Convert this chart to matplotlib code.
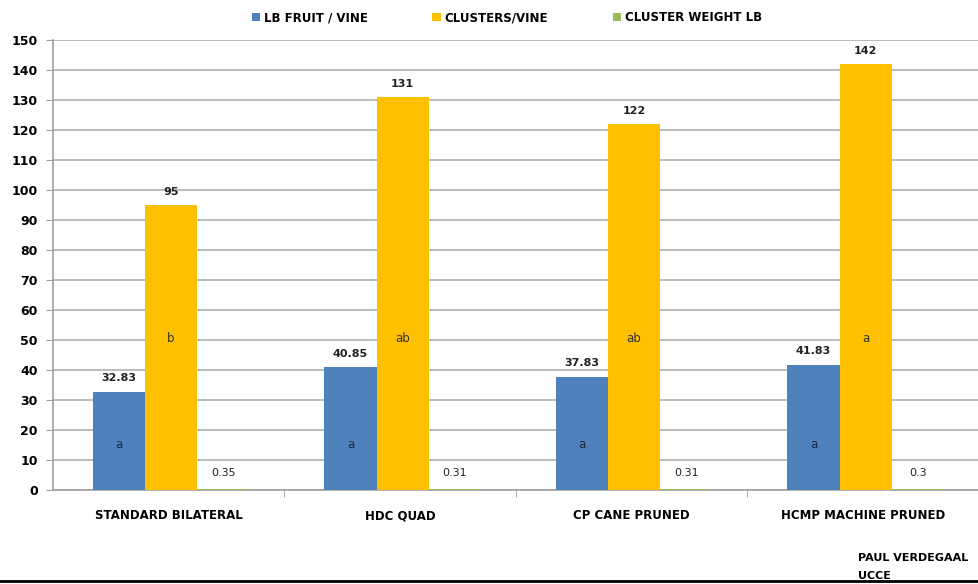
import matplotlib.pyplot as plt
import matplotlib.lines as mlines
import numpy as np

categories = ["STANDARD BILATERAL", "HDC QUAD", "CP CANE PRUNED", "HCMP MACHINE PRUNED"]
series_names = ["LB FRUIT / VINE", "CLUSTERS/VINE", "CLUSTER WEIGHT LB"]
fruit = [32.83, 40.85, 37.83, 41.83]
clusters = [95, 131, 122, 142]
weight = [0.35, 0.31, 0.31, 0.3]
fruit_letters = ["a", "a", "a", "a"]
cluster_letters = ["b", "ab", "ab", "a"]
colors = ["#4F81BD", "#FFC000", "#9BBB59"]

fig = plt.figure(figsize=(9.79, 5.84), dpi=100)
ax = fig.add_axes([53 / 979, 94 / 584, 1 - 53 / 979, 450 / 584])

x = np.arange(len(categories))
w = 0.225
all_vals = [fruit, clusters, weight]
for i, (vals, c, name) in enumerate(zip(all_vals, colors, series_names)):
    ax.bar(x + (i - 1) * w + 0.01, vals, w, color=c, label=name, zorder=3)

# value labels
for i, vals in enumerate(all_vals):
    for xi, v in zip(x, vals):
        txt = f"{v:g}" if i != 0 else f"{v:.2f}"
        ax.annotate(txt, (xi + (i - 1) * w + 0.01, v), xytext=(0, 6 if i < 2 else 8),
                    textcoords="offset points", ha="center", va="bottom",
                    fontsize=8, fontweight="bold" if i < 2 else "normal", color="#222222")

# significance letters inside the bars
for xi, l in zip(x, fruit_letters):
    ax.text(xi - w + 0.01, 15, l, ha="center", va="center", fontsize=8.5, color="#1a2a40")
for xi, l in zip(x, cluster_letters):
    ax.text(xi + 0.01, 50.5, l, ha="center", va="center", fontsize=8.5, color="#333333")

ax.set_xlim(-0.5, 3.5)
ax.set_ylim(0, 150)
ax.set_yticks(range(0, 151, 10))
ax.yaxis.grid(True, color="#b0b0b0", linewidth=1.2, zorder=0)
ax.set_axisbelow(True)
for s in ["top", "right"]:
    ax.spines[s].set_visible(False)
ax.spines["left"].set_color("#a0a0a0")
ax.spines["left"].set_linewidth(1.2)
ax.spines["bottom"].set_color("#a0a0a0")
ax.spines["bottom"].set_linewidth(1.2)
ax.tick_params(axis="y", length=5, color="#a0a0a0", labelsize=9, pad=6)
for lab in ax.get_yticklabels():
    lab.set_fontweight("bold")

ax.set_xticks(x)
ax.set_xticklabels(categories, fontsize=8.5, fontweight="bold")
ax.tick_params(axis="x", length=0, pad=14)
ax.set_xticks(np.arange(0.5, 3.5, 1), minor=True)
ax.tick_params(axis="x", which="minor", length=5, color="#a0a0a0")

ax.legend(loc="upper center", bbox_to_anchor=(0.49, 1.088), ncol=3, frameon=False,
          prop={"size": 8.5, "weight": "bold"}, handlelength=0.7, handleheight=0.7,
          handletextpad=0.3, columnspacing=5.5)

fig.text(858 / 979, 1 - 558 / 584, "PAUL VERDEGAAL", fontsize=8, fontweight="bold",
         va="center", ha="left")
fig.text(858 / 979, 1 - 576 / 584, "UCCE", fontsize=8, fontweight="bold",
         va="center", ha="left")
fig.add_artist(mlines.Line2D([0, 1], [1 - 581 / 584, 1 - 581 / 584], color="black",
                             linewidth=2, transform=fig.transFigure))

fig.savefig("out.png", dpi=100)
